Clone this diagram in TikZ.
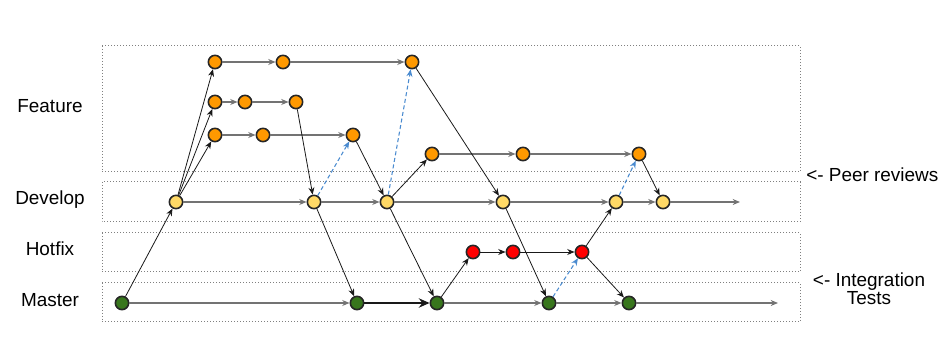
\documentclass[tikz,border=0pt]{standalone}
\usepackage{fontspec}
\setmainfont{Liberation Sans}
\usetikzlibrary{arrows.meta}
\definecolor{forange}{HTML}{FF9900}
\definecolor{dyellow}{HTML}{FFD966}
\definecolor{hred}{HTML}{FF0000}
\definecolor{mgreen}{HTML}{38761D}
\definecolor{revblue}{HTML}{4A8BD0}
\begin{document}
\begin{tikzpicture}[x=0.75pt,y=-0.75pt,
 commit/.style={circle,draw=black!85,line width=1.2pt,minimum size=10pt,inner sep=0pt},
 feat/.style={commit,fill=forange},
 dev/.style={commit,fill=dyellow},
 hot/.style={commit,fill=hred},
 mast/.style={commit,fill=mgreen},
 lanebox/.style={draw=black!50,line width=0.75pt,dash pattern=on 0.75pt off 1.5pt},
 flow/.style={draw=black!55,line width=1.3pt,-{Stealth[length=5.5pt,width=4.5pt]}},
 link/.style={draw=black!90,line width=0.6pt,-{Stealth[length=5.5pt,width=4.5pt]}},
 hlink/.style={draw=black!90,line width=0.65pt,-{Stealth[length=5.5pt,width=4.5pt]}},
 bold/.style={draw=black!90,line width=2.2pt,-{Stealth[length=8pt,width=7pt]}},
 review/.style={draw=revblue,line width=0.8pt,dash pattern=on 3pt off 2pt,-{Stealth[length=5.5pt,width=4.5pt]}},
 lbl/.style={font=\fontsize{14.2}{17}\selectfont,inner sep=0pt}
]
\useasboundingbox (0,0) rectangle (943,359);
% lane boxes
\draw[lanebox] (102,46) rectangle (800,172);
\draw[lanebox] (102,182) rectangle (800,222);
\draw[lanebox] (102,233) rectangle (800,272);
\draw[lanebox] (102,283) rectangle (800,322);
% labels
\node[lbl,anchor=base] (lf) at (50,112.5) {Feature};
\node[lbl,anchor=base] (ld) at (50,205) {Develop};
\node[lbl,anchor=base] (lh) at (50,256) {Hotfix};
\node[lbl,anchor=base] (lm) at (50,307) {Master};
\node[lbl,anchor=base west] (lp) at (806,182) {<- Peer reviews};
\node[lbl,anchor=base] (li) at (869,287) {<- Integration};
\node[lbl,anchor=base] (lt) at (869,305) {Tests};
% feature commits
\node[feat] (f1a) at (215,62) {};
\node[feat] (f1b) at (283,62) {};
\node[feat] (f1c) at (412,62) {};
\node[feat] (f2a) at (215,102) {};
\node[feat] (f2b) at (245,102) {};
\node[feat] (f2c) at (296,102) {};
\node[feat] (f3a) at (215,135) {};
\node[feat] (f3b) at (263,135) {};
\node[feat] (f3c) at (353,135) {};
\node[feat] (f4a) at (432,154) {};
\node[feat] (f4b) at (523,154) {};
\node[feat] (f4c) at (639,154) {};
% develop
\node[dev] (d1) at (176,202) {};
\node[dev] (d2) at (314,202) {};
\node[dev] (d3) at (387,202) {};
\node[dev] (d4) at (503,202) {};
\node[dev] (d5) at (616,202) {};
\node[dev] (d6) at (663,202) {};
\coordinate (dend) at (740,202);
% hotfix
\node[hot] (h1) at (473,252) {};
\node[hot] (h2) at (513,252) {};
\node[hot] (h3) at (582,252) {};
% master
\node[mast] (m1) at (122,303) {};
\node[mast] (m2) at (357,303) {};
\node[mast] (m3) at (437,303) {};
\node[mast] (m4) at (549,303) {};
\node[mast] (m5) at (629,303) {};
\coordinate (mend) at (778,303);
% horizontal flows
\draw[flow] (f1a) -- (f1b);
\draw[flow] (f1b) -- (f1c);
\draw[flow] (f2a) -- (f2b);
\draw[flow] (f2b) -- (f2c);
\draw[flow] (f3a) -- (f3b);
\draw[flow] (f3b) -- (f3c);
\draw[flow] (f4a) -- (f4b);
\draw[flow] (f4b) -- (f4c);
\draw[flow] (d1) -- (d2);
\draw[flow] (d2) -- (d3);
\draw[flow] (d3) -- (d4);
\draw[flow] (d4) -- (d5);
\draw[flow] (d5) -- (d6);
\draw[flow] (d6) -- (dend);
\draw[hlink] (h1) -- (h2);
\draw[hlink] (h2) -- (h3);
\draw[flow] (m1) -- (m2);
\draw[bold] (m2) -- (m3);
\draw[flow] (m3) -- (m4);
\draw[flow] (m4) -- (m5);
\draw[flow] (m5) -- (mend);
% branch links
\draw[link] (m1) -- (d1);
\draw[link] (d1) -- (f1a);
\draw[link] (d1) -- (f2a);
\draw[link] (d1) -- (f3a);
\draw[link] (f2c) -- (d2);
\draw[link] (f3c) -- (d3);
\draw[link] (d3) -- (f4a);
\draw[link] (f1c) -- (d4);
\draw[link] (f4c) -- (d6);
\draw[link] (d2) -- (m2);
\draw[link] (d3) -- (m3);
\draw[link] (m3) -- (h1);
\draw[link] (d4) -- (m4);
\draw[link] (h3) -- (d5);
\draw[link] (h3) -- (m5);
% reviews
\draw[review] (d2) -- (f3c);
\draw[review] (d3) -- (f1c);
\draw[review] (d5) -- (f4c);
\draw[review] (m4) -- (h3);
\end{tikzpicture}
\end{document}
